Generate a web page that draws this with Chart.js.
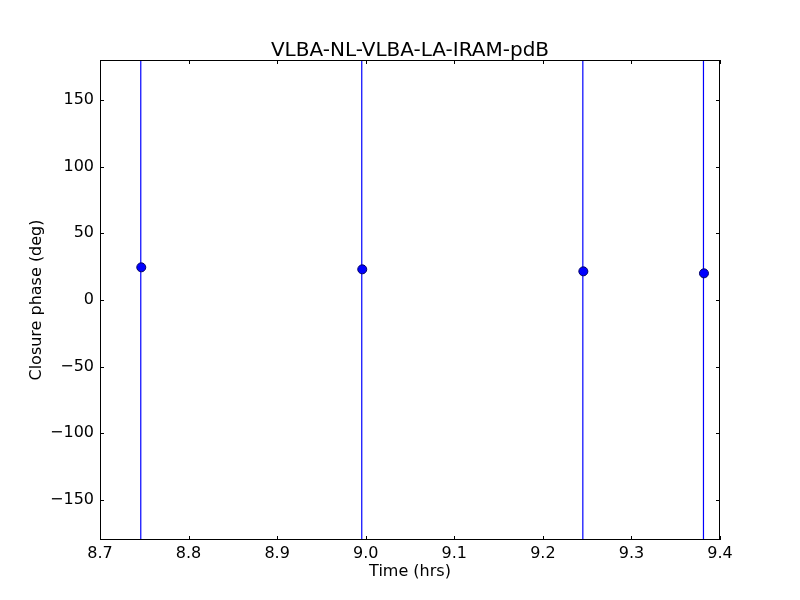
<!DOCTYPE html>
<html><head><meta charset="utf-8">
<script src="https://cdn.jsdelivr.net/npm/chart.js@4"></script>
<style>html,body{margin:0;padding:0;background:#fff}#wrap{width:800px;height:600px}</style>
</head><body><div id="wrap"><canvas id="c" width="800" height="600"></canvas></div>
<script>
const chartTitle = 'VLBA-NL-VLBA-LA-IRAM-pdB';
const times = [8.7466, 8.9961, 9.2457, 9.3819];
const phases = [24.5, 23.0, 21.5, 20.0];
const phaseErrors = [260, 260, 260, 260];
const xTicks = [8.7, 8.8, 8.9, 9.0, 9.1, 9.2, 9.3, 9.4];
const yTicks = [-150, -100, -50, 0, 50, 100, 150];
const xLabels = ['8.7','8.8','8.9','9.0','9.1','9.2','9.3','9.4'];

const FONT = "'DejaVu Sans', sans-serif";

const framePlugin = {
  id: 'frame',
  beforeDatasetsDraw(chart) {
    const {ctx, chartArea: a, scales: {x, y}} = chart;
    const ds = chart.data.datasets[0].data;
    ctx.save();
    ctx.beginPath(); ctx.rect(a.left, a.top, a.right - a.left, a.bottom - a.top); ctx.clip();
    ctx.lineWidth = 1.2;
    ds.forEach((p, i) => {
      const px = x.getPixelForValue(p.x) - 0.5;
      ctx.beginPath();
      ctx.moveTo(px, y.getPixelForValue(p.y - phaseErrors[i]));
      ctx.lineTo(px, y.getPixelForValue(p.y + phaseErrors[i]));
      ctx.strokeStyle = 'rgb(0,0,255)';
      ctx.stroke();
    });
    ctx.restore();
  },
  afterDraw(chart) {
    const {ctx, chartArea: a, scales: {x, y}} = chart;
    ctx.save();
    ctx.strokeStyle = '#000'; ctx.lineWidth = 1;
    ctx.strokeRect(a.left + 0.5, a.top + 0.5, a.right - a.left - 1, a.bottom - a.top - 1);
    ctx.beginPath();
    x.ticks.forEach(t => {
      const px = Math.round(x.getPixelForValue(t.value)) + 0.5;
      ctx.moveTo(px, a.bottom); ctx.lineTo(px, a.bottom - 4);
      ctx.moveTo(px, a.top); ctx.lineTo(px, a.top + 4);
    });
    y.ticks.forEach(t => {
      const py = Math.round(y.getPixelForValue(t.value)) + 0.5;
      ctx.moveTo(a.left, py); ctx.lineTo(a.left + 4, py);
      ctx.moveTo(a.right, py); ctx.lineTo(a.right - 4, py);
    });
    ctx.stroke();
    ctx.fillStyle = '#000';
    ctx.font = '20px ' + FONT;
    ctx.textAlign = 'center';
    ctx.textBaseline = 'alphabetic';
    ctx.fillText(chartTitle, (a.left + a.right) / 2, 56);
    ctx.restore();
  }
};

new Chart(document.getElementById('c'), {
  type: 'scatter',
  data: {
    datasets: [{
      data: times.map((t, i) => ({x: t, y: phases[i]})),
      backgroundColor: '#0000ff',
      borderColor: '#000066',
      borderWidth: 1,
      pointRadius: 4.5,
      pointHoverRadius: 4.5
    }]
  },
  options: {
    responsive: false,
    animation: false,
    events: [],
    layout: {padding: {top: 60, right: 80, left: 0, bottom: 0}},
    plugins: {
      legend: {display: false},
      tooltip: {enabled: false},
      title: {display: false}
    },
    scales: {
      x: {
        type: 'linear', min: 8.7, max: 9.4,
        grid: {display: false, drawTicks: false},
        border: {display: false},
        afterBuildTicks: s => { s.ticks = xTicks.map(v => ({value: v})); },
        afterFit: s => { s.height = 60; },
        ticks: {
          color: '#000', padding: 4,
          font: {family: FONT, size: 16},
          callback: (v, i) => xLabels[i]
        },
        title: {
          display: true, text: 'Time (hrs)', color: '#000',
          font: {family: FONT, size: 16, lineHeight: 1.2},
          padding: {top: 0, bottom: 19}
        }
      },
      y: {
        type: 'linear', min: -180, max: 180,
        grid: {display: false, drawTicks: false},
        border: {display: false},
        afterBuildTicks: s => { s.ticks = yTicks.map(v => ({value: v})); },
        afterFit: s => { s.width = 100; },
        ticks: {
          color: '#000', padding: 6,
          font: {family: FONT, size: 16},
          callback: v => String(v).replace('-', '\u2212')
        },
        title: {
          display: true, text: 'Closure phase (deg)', color: '#000',
          font: {family: FONT, size: 16, lineHeight: 1.2},
          padding: {top: 27, bottom: 0}
        }
      }
    }
  },
  plugins: [framePlugin]
});
</script>
</body></html>
